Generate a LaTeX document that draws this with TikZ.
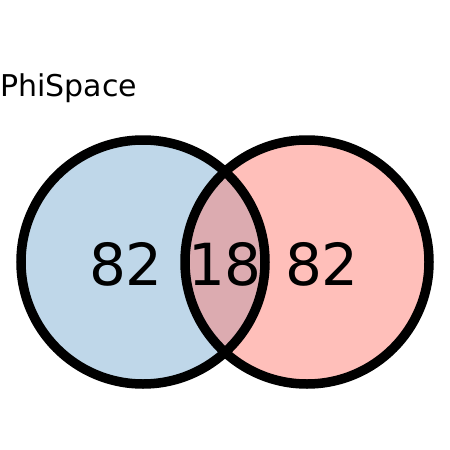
\documentclass[tikz,border=0pt]{standalone}
\usepackage{fontspec}
\setmainfont{DejaVu Sans}
\usepackage{tikz}
\usetikzlibrary{positioning}
\definecolor{setA}{RGB}{191,215,233}
\definecolor{setB}{RGB}{255,191,186}
\definecolor{setAB}{RGB}{220,171,176}

\begin{document}
\begin{tikzpicture}[
  x=1pt,y=-1pt,
  num/.style={font=\fontsize{58}{62}\selectfont,inner sep=0pt},
  ring/.style={draw=black,line width=9.5pt}
]
\useasboundingbox (0,0) rectangle (450,450);
% ---- set fills ----
\fill[setA] (143,262) circle (122);
\fill[setB] (307,262) circle (122);
\begin{scope}
  \clip (143,262) circle (122);
  \fill[setAB] (307,262) circle (122);
\end{scope}
% ---- outlines ----
\draw[ring] (143,262) circle (122);
\draw[ring] (307,262) circle (122);
% ---- counts ----
\node[num] (onlyA) at (126,264) {82};
\node[num] (both)  at (225,264) {18};
\node[num] (onlyB) at (322,264) {82};
\node[font=\fontsize{30}{33}\selectfont,anchor=base west,inner sep=0pt] (title) at (0,96) {PhiSpace};
\end{tikzpicture}
\end{document}
